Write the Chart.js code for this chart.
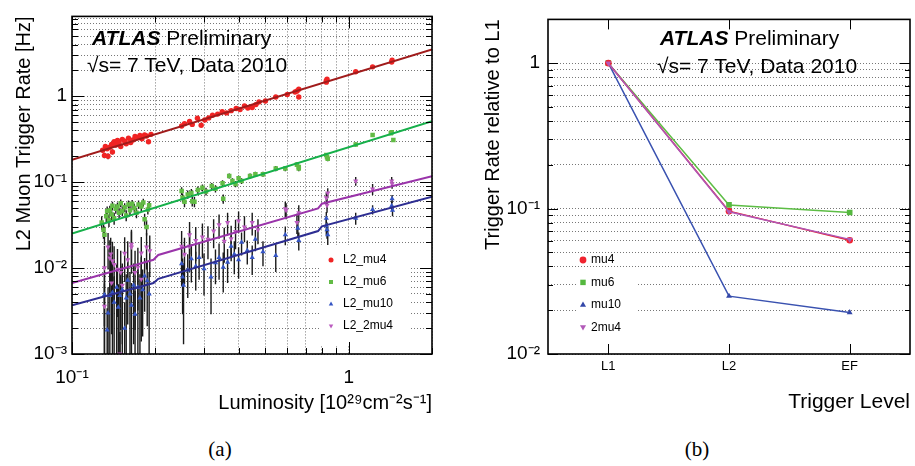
<!DOCTYPE html>
<html>
<head>
<meta charset="utf-8">
<script src="https://cdn.jsdelivr.net/npm/chart.js@4.4.1/dist/chart.umd.min.js"></script>
<style>
body { margin: 0; background: #fff; width: 915px; height: 466px; overflow: hidden; position: relative; font-family: "Liberation Sans", Arial, sans-serif; }
canvas { position: absolute; top: 0; }
#cL { left: 0; }
#cR { left: 460px; }
.lbl { position: absolute; font-size: 21px; line-height: 21px; white-space: nowrap; color: #000; }
.lbl b { font-style: italic; }
.cap { position: absolute; top: 437px; font-family: "Liberation Serif", serif; font-size: 21px; transform: translateX(-50%); }
</style>
</head>
<body>
<canvas id="cL" width="460" height="420"></canvas>
<canvas id="cR" width="455" height="420"></canvas>
<div class="lbl" style="left:92px;top:27px"><b>ATLAS</b> Preliminary</div>
<div class="lbl" style="left:87px;top:54px">√s= 7 TeV, Data 2010</div>
<div class="lbl" style="left:660px;top:27px"><b>ATLAS</b> Preliminary</div>
<div class="lbl" style="left:657px;top:55px">√s= 7 TeV, Data 2010</div>
<div class="cap" style="left:220px">(a)</div>
<div class="cap" style="left:697px">(b)</div>
<script>
// -- panel (a): L2 rates vs luminosity, points are [lumi, rate, error] --
const lumiTicks = [0.1, 1];
const lumiTickLabels = ['10⁻¹', '1'];
const rateTicks = [0.001, 0.01, 0.1, 1];
const rateTickLabels = ['10⁻³', '10⁻²', '10⁻¹', '1'];

const mu4Pts = [
  [0.129,0.235,0.015],[0.131,0.205,0.015],[0.132,0.26,0.015],[0.134,0.245,0.015],[0.135,0.20,0.015],[0.137,0.255,0.015],
  [0.139,0.275,0.015],[0.140,0.225,0.015],[0.142,0.295,0.015],[0.144,0.27,0.015],[0.146,0.305,0.015],[0.148,0.285,0.015],
  [0.150,0.26,0.015],[0.152,0.315,0.015],[0.155,0.30,0.015],[0.157,0.28,0.015],[0.160,0.325,0.015],[0.163,0.29,0.015],
  [0.166,0.31,0.015],[0.169,0.34,0.015],[0.172,0.33,0.015],[0.176,0.35,0.015],[0.179,0.32,0.015],[0.183,0.355,0.015],
  [0.186,0.345,0.015],[0.189,0.295,0.015],[0.193,0.36,0.015],
  [0.249,0.45,0.02],[0.255,0.48,0.02],[0.266,0.51,0.02],[0.272,0.47,0.02],[0.284,0.555,0.02],[0.293,0.46,0.02],
  [0.302,0.53,0.02],[0.312,0.56,0.02],[0.322,0.60,0.02],[0.336,0.62,0.02],[0.349,0.66,0.02],[0.362,0.64,0.02],
  [0.376,0.68,0.02],[0.392,0.72,0.02],[0.405,0.70,0.02],[0.42,0.77,0.02],[0.432,0.73,0.02],[0.448,0.74,0.02],
  [0.462,0.80,0.02],[0.474,0.86,0.02],[0.50,0.88,0.02],[0.545,0.98,0.02],[0.60,1.05,0.02],[0.64,1.12,0.02],
  [0.651,1.15,0.02],[0.66,0.98,0.02],[0.66,1.21,0.02],
  [0.83,1.46,0.03],[0.83,1.52,0.03],[0.835,1.58,0.03],[1.06,1.93,0.03],[1.22,2.2,0.03],[1.43,2.5,0.03],[1.435,2.62,0.03]
];
const mu6Pts = [
  [0.128,0.034,0.006],[0.130,0.028,0.006],[0.131,0.0245,0.006],[0.133,0.040,0.006],[0.134,0.046,0.006],[0.136,0.036,0.006],
  [0.137,0.047,0.006],[0.139,0.042,0.006],[0.140,0.053,0.006],[0.142,0.038,0.006],[0.144,0.049,0.006],[0.146,0.052,0.006],
  [0.148,0.044,0.006],[0.150,0.057,0.006],[0.152,0.046,0.006],[0.155,0.051,0.006],[0.157,0.041,0.006],[0.160,0.055,0.006],
  [0.162,0.047,0.006],[0.165,0.056,0.006],[0.168,0.050,0.006],[0.171,0.044,0.006],[0.174,0.055,0.006],[0.178,0.052,0.006],
  [0.181,0.058,0.006],[0.183,0.037,0.006],[0.186,0.030,0.006],[0.188,0.048,0.006],[0.190,0.054,0.006],
  [0.249,0.079,0.008],[0.251,0.066,0.008],[0.255,0.059,0.008],[0.262,0.072,0.008],[0.27,0.075,0.008],[0.272,0.060,0.008],
  [0.277,0.059,0.008],[0.285,0.081,0.008],[0.296,0.086,0.008],[0.305,0.078,0.008],[0.32,0.09,0.008],[0.33,0.084,0.008],
  [0.35,0.097,0.008],[0.352,0.064,0.008],[0.37,0.118,0.008],[0.38,0.103,0.008],[0.39,0.095,0.008],[0.40,0.111,0.008],
  [0.41,0.103,0.008],[0.44,0.118,0.008],[0.46,0.124,0.008],[0.49,0.124,0.008],[0.545,0.144,0.01],[0.59,0.144,0.01],
  [0.65,0.16,0.01],[0.66,0.144,0.01],[0.66,0.15,0.01],
  [0.83,0.207,0.012],[0.835,0.195,0.012],[0.84,0.187,0.012],[1.06,0.275,0.015],[1.22,0.355,0.015],[1.42,0.37,0.015],
  [1.43,0.38,0.015],[1.45,0.31,0.015]
];
const mu10Pts = [
  [0.131,0.0049,0.004],[0.134,0.0019,0.0015],[0.135,0.0030,0.003],[0.137,0.0048,0.004],[0.140,0.0052,0.005],[0.142,0.0040,0.004],
  [0.145,0.0060,0.005],[0.147,0.0035,0.003],[0.149,0.0048,0.004],[0.152,0.0056,0.005],[0.155,0.0020,0.002],[0.157,0.0045,0.004],
  [0.159,0.0072,0.005],[0.162,0.0050,0.004],[0.164,0.0037,0.003],[0.167,0.0063,0.005],[0.169,0.0029,0.0025],[0.173,0.0060,0.005],
  [0.176,0.0045,0.004],[0.180,0.0056,0.004],[0.183,0.0081,0.005],[0.187,0.0071,0.005],[0.190,0.0050,0.004],
  [0.249,0.0112,0.005],[0.251,0.0079,0.005],[0.253,0.0063,0.005],[0.262,0.0095,0.005],[0.27,0.0128,0.006],[0.28,0.0105,0.005],
  [0.288,0.0133,0.006],[0.30,0.0098,0.005],[0.318,0.0079,0.005],[0.33,0.0115,0.005],[0.34,0.0133,0.006],[0.352,0.0102,0.005],
  [0.365,0.0117,0.005],[0.376,0.018,0.006],[0.386,0.0145,0.006],[0.40,0.0125,0.005],[0.41,0.020,0.006],[0.43,0.016,0.005],
  [0.448,0.0133,0.005],[0.46,0.0217,0.006],[0.49,0.0155,0.005],[0.545,0.014,0.005],[0.59,0.0245,0.006],[0.655,0.029,0.006],
  [0.66,0.021,0.005],
  [0.83,0.038,0.007],[0.83,0.031,0.007],[0.835,0.028,0.006],[0.84,0.0245,0.006],[1.06,0.038,0.006],[1.22,0.048,0.006],
  [1.43,0.053,0.007],[1.435,0.064,0.007],[1.44,0.047,0.007]
];
const dimu4Pts = [
  [0.131,0.0101,0.008],[0.131,0.0036,0.003],[0.135,0.0176,0.008],[0.137,0.0131,0.008],[0.138,0.0146,0.008],[0.139,0.0067,0.005],
  [0.140,0.0122,0.008],[0.142,0.011,0.007],[0.146,0.0097,0.007],[0.149,0.0010,0.0008],[0.150,0.0089,0.007],[0.152,0.0063,0.005],
  [0.155,0.0149,0.008],[0.159,0.0125,0.008],[0.164,0.0176,0.009],[0.164,0.019,0.009],[0.169,0.0089,0.007],[0.173,0.0102,0.007],
  [0.178,0.0074,0.006],[0.178,0.015,0.008],[0.186,0.0176,0.008],[0.191,0.0159,0.008],
  [0.249,0.018,0.009],[0.255,0.0145,0.008],[0.266,0.0245,0.01],[0.266,0.018,0.009],[0.28,0.021,0.009],[0.296,0.023,0.01],
  [0.31,0.0217,0.009],[0.325,0.027,0.01],[0.34,0.032,0.01],[0.355,0.0205,0.009],[0.365,0.034,0.01],[0.376,0.022,0.009],
  [0.39,0.0266,0.01],[0.40,0.0355,0.01],[0.42,0.030,0.01],[0.448,0.034,0.01],[0.47,0.028,0.009],[0.59,0.049,0.01],
  [0.594,0.047,0.01],[0.65,0.034,0.009],[0.66,0.044,0.01],
  [0.83,0.066,0.01],[0.835,0.054,0.01],[0.84,0.075,0.01],[1.06,0.103,0.012],[1.22,0.083,0.012],[1.43,0.103,0.012],
  [1.435,0.096,0.012]
];
// fitted lines [lumi, rate]
const mu4Fit = [[0.1,0.182],[2,3.5]];
const mu6Fit = [[0.1,0.0253],[2,0.513]];
const mu10Fit = [[0.1,0.0037],[0.197,0.0067],[0.205,0.0075],[0.775,0.027],[0.8,0.0306],[2,0.0678]];
const dimu4Fit = [[0.1,0.0067],[0.197,0.0125],[0.205,0.0142],[0.775,0.0494],[0.8,0.0561],[2,0.117]];

// -- panel (b): rate relative to L1 --
const levels = ['L1', 'L2', 'EF'];
const mu4Rel = [1, 0.096, 0.0605];
const mu6Rel = [1, 0.106, 0.094];
const mu10Rel = [1, 0.025, 0.0193];
const dimu4Rel = [1, 0.095, 0.0614];
const relTicks = [0.01, 0.1, 1];
const relTickLabels = ['10⁻²', '10⁻¹', '1'];

Chart.defaults.font.family = '"Liberation Sans", Arial, sans-serif';
Chart.defaults.color = '#000';

// 1..9 x 10^n positions for grid lines and frame ticks
function decadeTicks(min, max) {
    let out = [];
    for (let p = Math.floor(Math.log10(min)); p <= Math.ceil(Math.log10(max)); p++)
        for (let m = 1; m < 10; m++) {
            let v = +(m * Math.pow(10, p)).toPrecision(6);
            if (v >= min * 0.999 && v <= max * 1.001) out.push({value: v});
        }
    return out;
}
function pickLabel(values, labels) {
    return v => {
        let i = values.findIndex(t => Math.abs(Math.log10(t / v)) < 1e-6);
        return i < 0 ? '' : labels[i];
    };
}
const toXY = arr => arr.map(p => ({x: p[0], y: p[1], e: p[2]}));

// --> black vertical error bars under the markers <--
const errorBars = {
    id: 'errorBars',
    beforeDatasetsDraw(chart) {
        const {ctx, chartArea: a, scales: {x, y}} = chart;
        ctx.save();
        ctx.beginPath(); ctx.rect(a.left, a.top, a.width, a.height); ctx.clip();
        ctx.strokeStyle = '#1a1a1a';
        ctx.lineWidth = 1.4;
        chart.data.datasets.forEach(ds => {
            if (!ds.errors) return;
            ds.data.forEach(p => {
                let px = x.getPixelForValue(p.x);
                let lo = p.y - p.e > 0 ? y.getPixelForValue(p.y - p.e) : a.bottom;
                ctx.beginPath();
                ctx.moveTo(px, lo);
                ctx.lineTo(px, y.getPixelForValue(p.y + p.e));
                ctx.stroke();
            });
        });
        ctx.restore();
    }
};

// --> ROOT-like frame with inner ticks <--
const frame = {
    id: 'frame',
    afterDraw(chart, args, o) {
        const {ctx, chartArea: a} = chart;
        ctx.save();
        ctx.strokeStyle = '#000';
        ctx.lineWidth = 1;
        for (let id of ['x', 'y']) {
            let s = chart.scales[id];
            s.ticks.forEach((t, i) => {
                let len = o.major;
                if (s.type !== 'category') {
                    let lg = Math.log10(t.value);
                    len = Math.abs(lg - Math.round(lg)) < 1e-6 ? o.major : o.minor;
                }
                let p = Math.round(s.getPixelForTick(i)) + 0.5;
                ctx.beginPath();
                if (id === 'x') {
                    ctx.moveTo(p, a.bottom); ctx.lineTo(p, a.bottom - len);
                    ctx.moveTo(p, a.top); ctx.lineTo(p, a.top + len);
                } else {
                    ctx.moveTo(a.left, p); ctx.lineTo(a.left + len, p);
                    ctx.moveTo(a.right, p); ctx.lineTo(a.right - len, p);
                }
                ctx.stroke();
            });
        }
        ctx.lineWidth = 1.6;
        ctx.strokeRect(a.left, a.top, a.width, a.height);
        ctx.restore();
    }
};

function marker(ctx, style, x, y, r, color) {
    ctx.fillStyle = color;
    ctx.beginPath();
    if (style === 'circle') ctx.arc(x, y, r, 0, 2 * Math.PI);
    else if (style === 'rect') ctx.rect(x - r * 0.8, y - r * 0.8, r * 1.6, r * 1.6);
    else {
        let d = style === 'down' ? -1 : 1;
        ctx.moveTo(x, y - d * r);
        ctx.lineTo(x + r * 0.9, y + d * r * 0.6);
        ctx.lineTo(x - r * 0.9, y + d * r * 0.6);
        ctx.closePath();
    }
    ctx.fill();
}

// --> legend drawn inside the plot <--
const boxLegend = {
    id: 'boxLegend',
    afterDatasetsDraw(chart, args, o) {
        const {ctx} = chart;
        ctx.save();
        ctx.fillStyle = '#fff';
        ctx.fillRect(o.bx, o.by, o.bw, o.bh);
        ctx.font = o.font;
        ctx.textBaseline = 'middle';
        chart.data.datasets.filter(d => d.mark).forEach((d, i) => {
            let yy = o.y + i * o.step;
            marker(ctx, d.mark, o.x, yy, o.r, d.pointBackgroundColor);
            ctx.fillStyle = '#000';
            ctx.fillText(d.label, o.x + o.gap, yy);
        });
        ctx.restore();
    }
};

const gridStyle = {color: '#777', lineWidth: 1, drawTicks: false};
const dotted = {display: false, dash: [1, 2]};

function scatterSet(label, pts, color, style, radius, rot, mark, order) {
    return {
        label: label, data: toXY(pts), errors: true, mark: mark, order: order,
        pointStyle: style, pointRadius: radius, pointRotation: rot,
        pointBackgroundColor: color, pointBorderColor: color, pointBorderWidth: 0
    };
}
function fitSet(pts, color) {
    return {
        data: pts.map(p => ({x: p[0], y: p[1]})), showLine: true, pointRadius: 0,
        borderColor: color, borderWidth: 2, tension: 0, order: 0
    };
}

new Chart(document.getElementById('cL'), {
    type: 'scatter',
    data: {
        datasets: [
            scatterSet('L2_mu4', mu4Pts, '#f02424', 'circle', 2.7, 0, 'circle', 4),
            scatterSet('L2_mu6', mu6Pts, '#62bb45', 'rect', 3.2, 0, 'rect', 3),
            scatterSet('L2_mu10', mu10Pts, '#3555c4', 'triangle', 3, 0, 'up', 1),
            scatterSet('L2_2mu4', dimu4Pts, '#bb5cbf', 'triangle', 3, 180, 'down', 2),
            fitSet(mu4Fit, '#a01b1b'),
            fitSet(mu6Fit, '#16b04a'),
            fitSet(mu10Fit, '#2e2e92'),
            fitSet(dimu4Fit, '#9a34aa')
        ]
    },
    options: {
        responsive: false,
        animation: false,
        events: [],
        layout: {padding: {left: 0, top: 5, right: 28, bottom: 0}},
        scales: {
            x: {
                type: 'logarithmic', min: 0.1, max: 2,
                afterBuildTicks: s => { s.ticks = decadeTicks(0.1, 2); },
                afterFit: s => { s.height = 66; },
                grid: gridStyle, border: dotted,
                ticks: {autoSkip: false, maxRotation: 0, padding: 12, font: {size: 19}, callback: pickLabel(lumiTicks, lumiTickLabels)},
                title: {display: true, text: 'Luminosity [10²⁹cm⁻²s⁻¹]', align: 'end', font: {size: 20}, padding: {top: 0, bottom: 5}}
            },
            y: {
                type: 'logarithmic', min: 0.001, max: 8.5,
                afterBuildTicks: s => { s.ticks = decadeTicks(0.001, 8.5); },
                afterFit: s => { s.width = 72; },
                grid: gridStyle, border: dotted,
                ticks: {autoSkip: false, padding: 5, font: {size: 19}, callback: pickLabel(rateTicks, rateTickLabels)},
                title: {display: true, text: 'L2 Muon Trigger Rate [Hz]', align: 'end', font: {size: 20}, padding: {top: 12, bottom: 0}}
            }
        },
        plugins: {
            legend: {display: false},
            tooltip: {enabled: false},
            frame: {major: 12, minor: 6},
            boxLegend: {bx: 320, by: 245, bw: 90, bh: 100, x: 331, y: 260, step: 22, r: 2.5, gap: 12, font: '12px "Liberation Sans", Arial, sans-serif'}
        }
    },
    plugins: [errorBars, boxLegend, frame]
});

function relSet(label, values, line, color, style, radius, rot, mark, order) {
    return {
        label: label, data: values, mark: mark, order: order,
        borderColor: line, borderWidth: 1.5, tension: 0,
        pointStyle: style, pointRadius: radius, pointRotation: rot,
        pointBackgroundColor: color, pointBorderColor: color, pointBorderWidth: 0
    };
}

new Chart(document.getElementById('cR'), {
    type: 'line',
    data: {
        labels: levels,
        datasets: [
            relSet('mu4', mu4Rel, '#e52433', '#f0232f', 'circle', 3.3, 0, 'circle', 2),
            relSet('mu6', mu6Rel, '#5dbd45', '#55b83f', 'rect', 4, 0, 'rect', 3),
            relSet('mu10', mu10Rel, '#3a52b0', '#3347a8', 'triangle', 3.4, 0, 'up', 4),
            relSet('2mu4', dimu4Rel, '#b056b6', '#b25ab8', 'triangle', 3.4, 180, 'down', 1)
        ]
    },
    options: {
        responsive: false,
        animation: false,
        events: [],
        layout: {padding: {left: 0, top: 7, right: 5, bottom: 0}},
        scales: {
            x: {
                type: 'category', offset: true,
                afterFit: s => { s.height = 66; },
                grid: {display: false, drawTicks: false}, border: {display: false},
                ticks: {padding: 5, font: {size: 13}},
                title: {display: true, text: 'Trigger Level', align: 'end', font: {size: 21}, padding: {top: 0, bottom: 5}}
            },
            y: {
                type: 'logarithmic', min: 0.01, max: 2,
                afterBuildTicks: s => { s.ticks = decadeTicks(0.01, 2); },
                afterFit: s => { s.width = 88; },
                grid: gridStyle, border: dotted,
                ticks: {autoSkip: false, padding: 8, font: {size: 19}, callback: pickLabel(relTicks, relTickLabels)},
                title: {display: true, text: 'Trigger Rate relative to L1', align: 'end', font: {size: 20}, padding: {top: 21, bottom: 0}}
            }
        },
        plugins: {
            legend: {display: false},
            tooltip: {enabled: false},
            frame: {major: 10, minor: 5},
            boxLegend: {bx: 118, by: 268, bw: 58, bh: 72, x: 123, y: 260, step: 22.4, r: 3.4, gap: 8, font: '12px "Liberation Sans", Arial, sans-serif'}
        }
    },
    plugins: [boxLegend, frame]
});
</script>
</body>
</html>
